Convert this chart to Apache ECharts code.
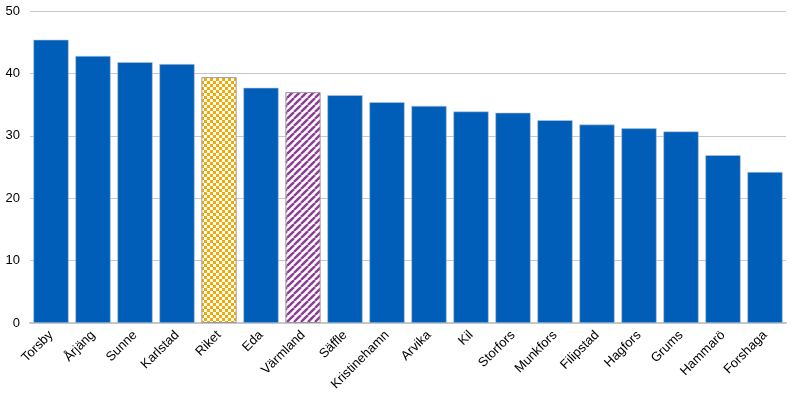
<!DOCTYPE html>
<html><head><meta charset="utf-8">
<script src="https://cdn.jsdelivr.net/npm/echarts@6/dist/echarts.min.js"></script>
<style>html,body{margin:0;padding:0;background:#fff}#c{width:798px;height:400px}</style>
</head><body><div id="c"></div>
<script>
var categories = ["Torsby","Årjäng","Sunne","Karlstad","Riket","Eda","Värmland","Säffle","Kristinehamn","Arvika","Kil","Storfors","Munkfors","Filipstad","Hagfors","Grums","Hammarö","Forshaga"];
var values = [45.4, 42.8, 41.8, 41.5, 39.4, 37.7, 37.0, 36.5, 35.4, 34.8, 33.9, 33.7, 32.5, 31.8, 31.2, 30.7, 26.9, 24.2];
var yTicks = [0, 10, 20, 30, 40, 50];

function checker(){
  var c = document.createElement('canvas'); c.width = 6; c.height = 6;
  var x = c.getContext('2d');
  x.fillStyle = '#ffffff'; x.fillRect(0,0,6,6);
  x.fillStyle = '#f4a900'; x.fillRect(0,0,3,3); x.fillRect(3,3,3,3);
  return c;
}
function stripes(){
  var n = 7;
  var c = document.createElement('canvas'); c.width = n; c.height = n;
  var x = c.getContext('2d');
  x.fillStyle = '#ffffff'; x.fillRect(0,0,n,n);
  x.strokeStyle = '#8e3a98'; x.lineWidth = 2.4;
  for (var k = -1; k <= 1; k++) {
    x.beginPath(); x.moveTo(k*n, n); x.lineTo(k*n + n, 0); x.stroke();
  }
  return c;
}
var data = values.map(function(v, i){
  var name = categories[i];
  if (name === 'Riket') return {value: v, itemStyle: {color: {image: checker(), repeat: 'repeat'}, borderColor: '#999', borderWidth: 1}};
  if (name === 'Värmland') return {value: v, itemStyle: {color: {image: stripes(), repeat: 'repeat'}, borderColor: '#999', borderWidth: 1}};
  return v;
});
var chart = echarts.init(document.getElementById('c'), null, {renderer: 'canvas'});
chart.setOption({
  animation: false,
  grid: {left: 30, right: 12, top: 11, bottom: 77, containLabel: false},
  xAxis: {
    type: 'category', data: categories,
    axisLine: {lineStyle: {color: '#c8c8c8', width: 2}},
    axisTick: {show: false},
    axisLabel: {rotate: 45, interval: 0, color: '#000', fontFamily: 'Liberation Sans, Arial, sans-serif', fontSize: 13, margin: 10}
  },
  yAxis: {
    type: 'value', min: 0, max: 50, interval: 10,
    axisLine: {show: false}, axisTick: {show: false},
    splitLine: {lineStyle: {color: '#c8c8c8', width: 1}},
    axisLabel: {color: '#000', fontFamily: 'Liberation Sans, Arial, sans-serif', fontSize: 13, margin: 10,
      formatter: function(v){ return yTicks.indexOf(v) >= 0 ? String(v) : ''; }}
  },
  series: [{
    type: 'bar', data: data, barCategoryGap: '16%',
    itemStyle: {color: '#005eb8', borderColor: '#b8c8dc', borderWidth: 0.6}
  }]
});
</script></body></html>
